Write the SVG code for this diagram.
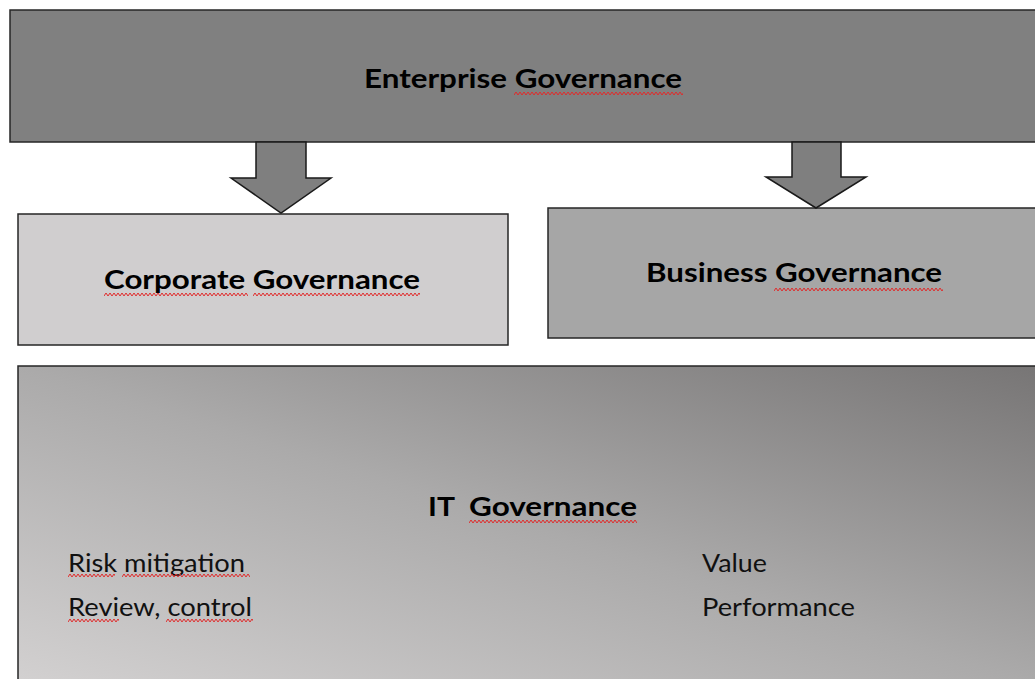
<svg xmlns="http://www.w3.org/2000/svg" width="1035" height="679" viewBox="0 0 1035 679">
<style>
.box{stroke:#262626;stroke-width:1.5}
.arrow{fill:#7f7f7f;stroke:#1a1a1a;stroke-width:1.5;stroke-linejoin:miter}
.h{font-family:Lato,"Liberation Sans",sans-serif;font-weight:bold;font-size:27px;fill:#000}
.t{font-family:Lato,"Liberation Sans",sans-serif;font-size:25px;fill:#111}
.wave{fill:url(#wv)}
</style>
<defs>
<pattern id="wv" patternUnits="userSpaceOnUse" width="4" height="5">
<polyline points="0,4 2,1 4,4" fill="none" stroke="#e02a2a" stroke-width="1"/>
</pattern>
<linearGradient id="itg" x1="0" y1="1" x2="1" y2="0">
<stop offset="0" stop-color="#d3d1d1"/>
<stop offset="0.5" stop-color="#abaaaa"/>
<stop offset="1" stop-color="#777575"/>
</linearGradient>
</defs>

<g id="enterprise">
<rect class="box" x="10" y="10" width="1035" height="132" fill="#808080"/>
<text class="h" x="364" y="88" textLength="318" lengthAdjust="spacingAndGlyphs">Enterprise Governance</text>
</g>

<g id="corporate">
<rect class="box" x="18" y="214" width="490" height="131" fill="#d0cecf"/>
<text class="h" x="104" y="289" textLength="316" lengthAdjust="spacingAndGlyphs">Corporate Governance</text>
</g>

<g id="business">
<rect class="box" x="548" y="208" width="497" height="130" fill="#a6a6a6"/>
<text class="h" x="646" y="282" textLength="296" lengthAdjust="spacingAndGlyphs">Business Governance</text>
</g>

<g id="it">
<rect class="box" x="18" y="366" width="1025" height="320" fill="url(#itg)"/>
<text class="h" y="516"><tspan x="428" textLength="27" lengthAdjust="spacingAndGlyphs">IT</tspan><tspan x="469" textLength="168" lengthAdjust="spacingAndGlyphs">Governance</tspan></text>
<text class="t" x="68" y="572" textLength="177" lengthAdjust="spacingAndGlyphs">Risk mitigation</text>
<text class="t" x="68" y="616" textLength="184" lengthAdjust="spacingAndGlyphs">Review, control</text>
<text class="t" x="702" y="572" textLength="65" lengthAdjust="spacingAndGlyphs">Value</text>
<text class="t" x="702" y="616" textLength="153" lengthAdjust="spacingAndGlyphs">Performance</text>
</g>

<g id="connectors">
<polygon class="arrow" points="256,142 306,142 306,178 331,178 281,213 231,178 256,178"/>
<polygon class="arrow" points="792,142 841,142 841,177 866,177 816,208 766,177 792,177"/>
</g>

<g id="spelling-marks">
<g transform="translate(514,91)"><rect class="wave" width="169" height="5"/></g>
<g transform="translate(104,292)"><rect class="wave" width="144" height="5"/></g>
<g transform="translate(253,292)"><rect class="wave" width="167" height="5"/></g>
<g transform="translate(774,287)"><rect class="wave" width="169" height="5"/></g>
<g transform="translate(469,519)"><rect class="wave" width="168" height="5"/></g>
<g transform="translate(68,573)"><rect class="wave" width="47" height="5"/></g>
<g transform="translate(122,573)"><rect class="wave" width="128" height="5"/></g>
<g transform="translate(68,618)"><rect class="wave" width="51" height="5"/></g>
<g transform="translate(166,618)"><rect class="wave" width="87" height="5"/></g>
</g>
</svg>
